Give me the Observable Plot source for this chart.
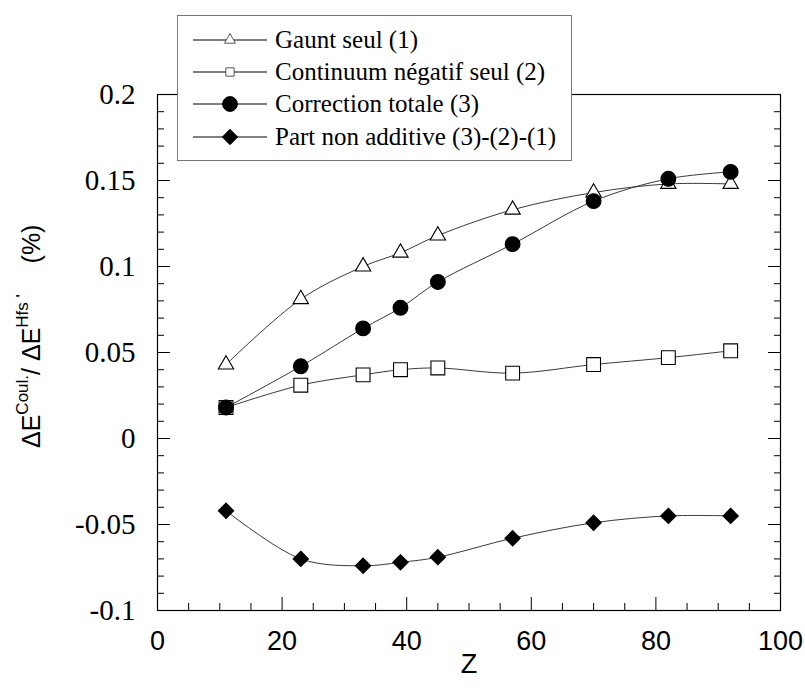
<!DOCTYPE html>
<html>
<head>
<meta charset="utf-8">
<script src="https://cdn.jsdelivr.net/npm/d3@7"></script>
<script src="https://cdn.jsdelivr.net/npm/@observablehq/plot@0.6"></script>
<style>
  html, body { margin: 0; padding: 0; background: white; }
  #wrap { position: relative; width: 805px; height: 689px; }
  #chart { position: absolute; left: 0; top: 0; }
  #legend { position: absolute; left: 177px; top: 15px; width: 393px; height: 144px;
            border: 1px solid #777; background: white; }
  #legend .row { position: absolute; left: 97px; height: 32px; line-height: 32px;
                 font-family: 'Liberation Serif', 'Times New Roman', serif; font-size: 25px; color: black; white-space: nowrap; }
  #legend svg { position: absolute; left: 0; top: 0; }
</style>
</head>
<body>
<div id="wrap">
  <div id="chart"></div>
  <div id="legend">
    <svg id="legsym" width="95" height="144"></svg>
    <div class="row" style="top:8px">Gaunt seul (1)</div>
    <div class="row" style="top:40px">Continuum négatif seul (2)</div>
    <div class="row" style="top:72px">Correction totale (3)</div>
    <div class="row" style="top:105px">Part non additive (3)-(2)-(1)</div>
  </div>
</div>
<script>
// ---- data ----
const Z = [11, 23, 33, 39, 45, 57, 70, 82, 92];
const gauntSeul = [0.043, 0.081, 0.100, 0.108, 0.118, 0.133, 0.143, 0.148, 0.148];
const continuumNegatif = [0.018, 0.031, 0.037, 0.040, 0.041, 0.038, 0.043, 0.047, 0.051];
const correctionTotale = [0.018, 0.042, 0.064, 0.076, 0.091, 0.113, 0.138, 0.151, 0.155];
const partNonAdditive = [-0.042, -0.070, -0.074, -0.072, -0.069, -0.058, -0.049, -0.045, -0.045];

const seriesNames = ["Gaunt seul (1)", "Continuum négatif seul (2)", "Correction totale (3)", "Part non additive (3)-(2)-(1)"];

const xMajorTicks = [0, 20, 40, 60, 80, 100];
const xMinorTicks = [5, 10, 15, 25, 30, 35, 45, 50, 55, 65, 70, 75, 85, 90, 95];
const xTickLabels = ["0", "20", "40", "60", "80", "100"];
const yMajorTicks = [-0.1, -0.05, 0, 0.05, 0.1, 0.15, 0.2];
const yMinorTicks = [-0.09, -0.08, -0.07, -0.06, -0.04, -0.03, -0.02, -0.01, 0.01, 0.02, 0.03, 0.04, 0.06, 0.07, 0.08, 0.09, 0.11, 0.12, 0.13, 0.14, 0.16, 0.17, 0.18, 0.19];
const yTickLabels = ["-0.1", "-0.05", "0", "0.05", "0.1", "0.15", "0.2"];

// ---- styles per series ----
const styles = [
  {symbol: "triangle", fill: "white", r: 5.7},
  {symbol: "square", fill: "white", r: 7.8},
  {symbol: "circle", fill: "black", r: 7.4},
  {symbol: "diamond2", fill: "black", r: 6.9}
];
const allValues = [gauntSeul, continuumNegatif, correctionTotale, partNonAdditive];
const tables = allValues.map((vals, s) => Z.map((z, i) => ({Z: z, v: vals[i], s: seriesNames[s]})));

const serif = "'Liberation Serif', 'Times New Roman', serif";
const sans = "'Liberation Sans', Arial, sans-serif";

function draw() {
  const holder = document.getElementById("chart");
  holder.innerHTML = "";
  const marks = [
    Plot.frame({stroke: "black", strokeWidth: 1.2}),
    Plot.axisX({ticks: xMinorTicks, tickSize: -7, tickFormat: () => "", label: null}),
    Plot.axisX({ticks: xMajorTicks, tickSize: -13, tickFormat: () => "", label: null}),
    Plot.axisX({ticks: xMajorTicks, tickSize: 0, tickPadding: 20, tickFormat: d => xTickLabels[xMajorTicks.indexOf(d)],
                fontSize: 27, fontFamily: sans, label: null}),
    Plot.axisY({anchor: "left", ticks: yMinorTicks, tickSize: -7, tickFormat: () => "", label: null}),
    Plot.axisY({anchor: "left", ticks: yMajorTicks, tickSize: -13, tickFormat: () => "", label: null}),
    Plot.axisY({anchor: "left", ticks: yMajorTicks, tickSize: 0, tickPadding: 22,
                tickFormat: d => yTickLabels[yMajorTicks.findIndex(t => Math.abs(t - d) < 1e-9)],
                fontSize: 29, fontFamily: serif, label: null}),
    Plot.axisY({anchor: "right", ticks: yMinorTicks, tickSize: -7, tickFormat: () => "", label: null}),
    Plot.axisY({anchor: "right", ticks: yMajorTicks, tickSize: -13, tickFormat: () => "", label: null}),
    Plot.text(["Z"], {frameAnchor: "bottom", dy: 62, fontSize: 27, fontFamily: sans})
  ];
  tables.forEach((t) => {
    marks.push(Plot.line(t, {x: "Z", y: "v", curve: "catmull-rom", stroke: "#222", strokeWidth: 0.9}));
  });
  tables.forEach((t, s) => {
    marks.push(Plot.dot(t, {x: "Z", y: "v", symbol: () => styles[s].symbol, r: styles[s].r,
      fill: styles[s].fill, stroke: "black", strokeWidth: 1.1}));
  });

  const chart = Plot.plot({
    width: 805, height: 689,
    marginLeft: 157, marginRight: 25, marginTop: 94, marginBottom: 79,
    x: {domain: [0, 100]},
    y: {domain: [-0.1, 0.2]},
    symbol: {type: "identity"},
    style: {background: "white", color: "black", overflow: "visible"},
    marks
  });
  holder.appendChild(chart);

  const svg = d3.select(chart);
  svg.selectAll("g").each(function() {
    if (this.getAttribute("text-anchor") === "end") {
      d3.select(this).selectAll("text").style("font-family", serif);
    }
  });

  const yt = svg.append("text")
    .attr("transform", "translate(40,448) rotate(-90)")
    .style("font-family", sans).attr("font-size", 25).attr("fill", "black")
    .attr("text-anchor", "start");
  yt.append("tspan").text("ΔE");
  yt.append("tspan").attr("font-size", 17).attr("dy", -12).text("Coul.");
  yt.append("tspan").attr("dy", 12).text("/ ΔE");
  yt.append("tspan").attr("font-size", 17).attr("dy", -12).text("Hfs '");
  svg.append("text")
    .attr("transform", "translate(40,244) rotate(-90)")
    .style("font-family", sans).attr("font-size", 25).attr("fill", "black")
    .attr("text-anchor", "middle").text("(%)");

  // legend symbols
  const leg = d3.select("#legsym");
  leg.selectAll("*").remove();
  const rowY = [24, 56, 88, 121];
  const typeMap = {triangle: d3.symbolTriangle, square: d3.symbolSquare, circle: d3.symbolCircle, diamond2: d3.symbolDiamond2};
  styles.forEach((st, s) => {
    const g = leg.append("g").attr("transform", `translate(0,${rowY[s]})`);
    g.append("line").attr("x1", 15).attr("x2", 89).attr("y1", 0).attr("y2", 0)
      .attr("stroke", "black").attr("stroke-width", 1);
    const scale = s === 0 ? 0.72 : s === 1 ? 0.6 : 1;
    g.append("path").attr("transform", "translate(52,0)")
      .attr("d", d3.symbol(typeMap[st.symbol], Math.PI * (st.r * scale) ** 2)())
      .attr("fill", st.fill).attr("stroke", s < 2 ? "#555" : "black").attr("stroke-width", 1);
  });
}
draw();
</script>
</body>
</html>
